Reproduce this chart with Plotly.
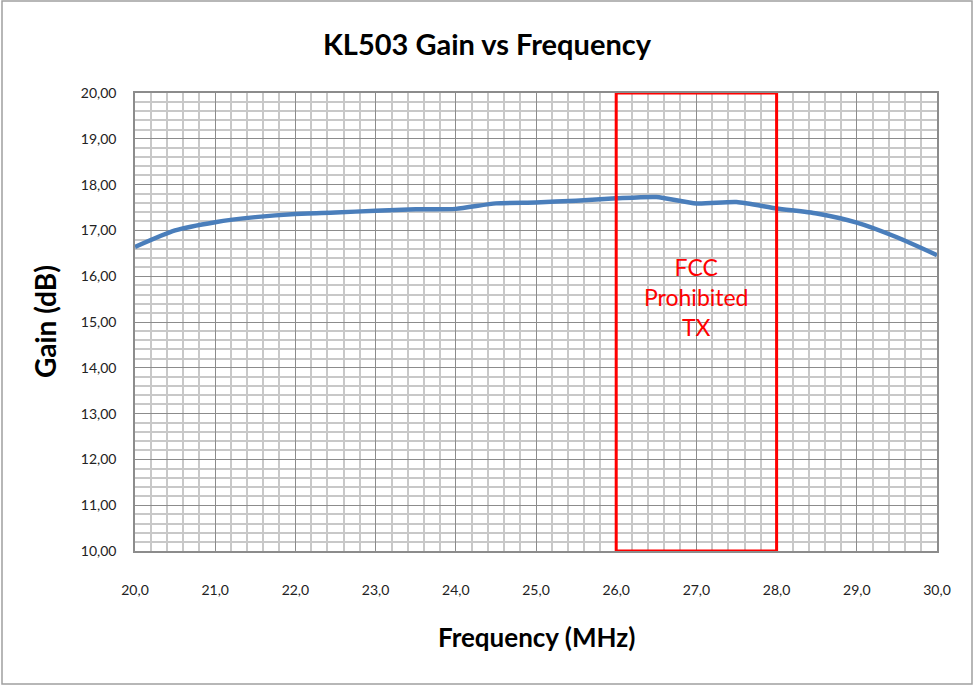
import plotly.graph_objects as go

freq_mhz = [20.0, 20.5, 21.0, 21.5, 22.0, 22.5, 23.0, 23.5, 24.0, 24.5, 25.0,
            25.5, 26.0, 26.5, 27.0, 27.5, 28.0, 28.5, 29.0, 29.5, 30.0]
gain_db = [16.64, 17.00, 17.18, 17.29, 17.36, 17.39, 17.43, 17.46, 17.47, 17.59, 17.61,
           17.65, 17.70, 17.73, 17.59, 17.62, 17.48, 17.37, 17.17, 16.85, 16.46]

band_start, band_end = 26.0, 28.0
band_label = "FCC<br>Prohibited<br>TX"
title_text = "KL503 Gain vs Frequency"
x_title = "Frequency (MHz)"
y_title = "Gain (dB)"

W, H = 974, 686
ML, MR, MT, MB = 135, 37, 93, 135
pw, ph = W - ML - MR, H - MT - MB

def px_x(p):
    return (p - ML) / pw

def px_y(p):
    return (H - MB - p) / ph

fig = go.Figure()
fig.add_trace(go.Scatter(
    x=freq_mhz, y=gain_db, mode="lines",
    line=dict(color="#4a7ebb", width=4.5, shape="spline", smoothing=0.6),
    showlegend=False, hoverinfo="x+y"))

fig.add_shape(type="rect", xref="x", yref="y", x0=band_start, x1=band_end, y0=10, y1=20,
              line=dict(color="#ff0000", width=3), fillcolor="rgba(0,0,0,0)", layer="above")

fig.add_annotation(x=(band_start + band_end) / 2, y=15.55, xref="x", yref="y",
                   text=band_label, showarrow=False, yanchor="middle",
                   font=dict(family="Lato", size=23, color="#ff0000"))

# outer chart border
fig.add_shape(type="rect", xref="paper", yref="paper",
              x0=px_x(2), x1=px_x(972), y0=px_y(684), y1=px_y(1),
              line=dict(color="#a0a0a0", width=1.5), fillcolor="rgba(0,0,0,0)")

fig.add_annotation(x=0.5, y=px_y(637), xref="paper", yref="paper", text=f"<b>{x_title}</b>",
                   showarrow=False, yanchor="middle", xanchor="center",
                   font=dict(family="Lato", size=26, color="#000000"))
fig.add_annotation(x=px_x(45), y=0.5, xref="paper", yref="paper", text=f"<b>{y_title}</b>",
                   showarrow=False, textangle=-90, xanchor="center", yanchor="middle",
                   font=dict(family="Lato", size=28, color="#000000"))

axis_common = dict(showline=True, linecolor="#8c8c8c", linewidth=1.5, mirror=True,
                   showgrid=True, gridcolor="#8c8c8c", gridwidth=1.2, zeroline=False,
                   ticks="", tickfont=dict(family="Lato", size=14, color="#222222"))

fig.update_layout(
    width=W, height=H,
    margin=dict(l=ML, r=MR, t=MT, b=MB),
    paper_bgcolor="white", plot_bgcolor="white",
    separators=",.",
    title=dict(text=f"<b>{title_text}</b>", x=0.5, xref="container", y=1 - 45 / H,
               yref="container", yanchor="middle", xanchor="center",
               font=dict(family="Lato", size=29, color="#000000")),
    xaxis=dict(range=[20, 30], dtick=1, tick0=20, tickformat=".1f",
               ticklabelstandoff=25,
               minor=dict(dtick=0.2, showgrid=True, gridcolor="#c8c8c8", gridwidth=1.5),
               **axis_common),
    yaxis=dict(range=[10, 20], dtick=1, tick0=10, tickformat=".2f",
               ticklabelstandoff=14,
               minor=dict(dtick=0.2, showgrid=True, gridcolor="#c8c8c8", gridwidth=1.5),
               **axis_common),
)

fig.write_html("out.html", config={"displayModeBar": False},
               post_script="document.body.style.margin='0';")
